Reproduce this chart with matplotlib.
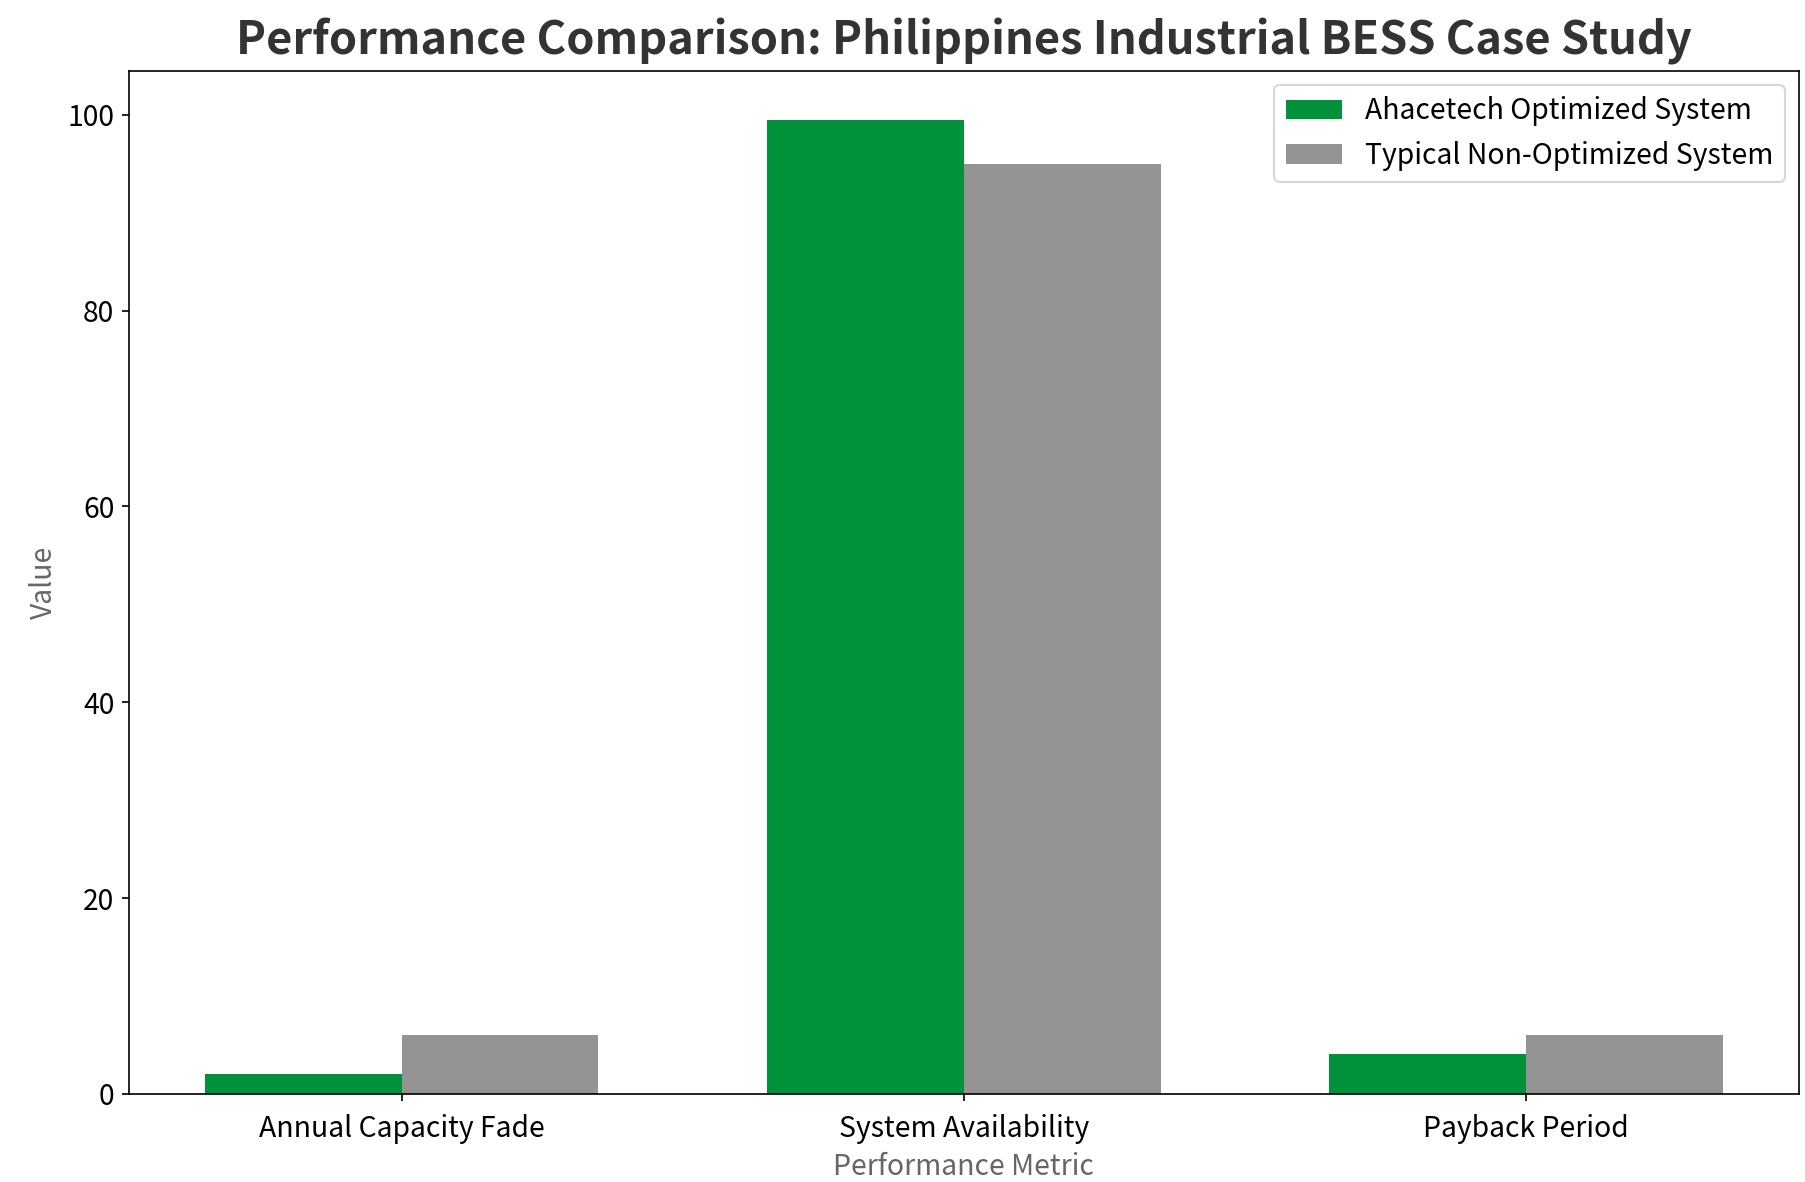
import numpy as np
import matplotlib
matplotlib.use("Agg")
import matplotlib.pyplot as plt

plt.rcParams['font.family'] = ['Noto Sans CJK SC', 'DejaVu Sans']

# 資料
metrics = ["Annual Capacity Fade", "System Availability", "Payback Period"]
optimized = [2.0, 99.5, 4.1]
typical = [6.0, 95.0, 6.0]
labels = ["Ahacetech Optimized System", "Typical Non-Optimized System"]

fig, ax = plt.subplots(figsize=(12.04, 7.88), dpi=150)
fig.subplots_adjust(left=0.0714, right=0.996, top=0.940, bottom=0.0745)

x = np.arange(len(metrics))
w = 0.35
ax.bar(x - w / 2, optimized, w, color="#00923a", linewidth=0, label=labels[0])
ax.bar(x + w / 2, typical, w, color="#949494", linewidth=0, label=labels[1])

ax.set_xticks(x)
ax.set_xticklabels(metrics, fontsize=13.6)
ax.tick_params(axis="x", pad=6)
ax.tick_params(axis="y", labelsize=13.6)
ax.set_xlabel("Performance Metric", fontsize=13.6, color="#666666", labelpad=4)
ax.set_ylabel("Value", fontsize=13.6, color="#666666")
ax.set_title("Performance Comparison: Philippines Industrial BESS Case Study",
             fontsize=21.7, fontweight="bold", color="#333333", pad=8)
ax.legend(fontsize=13.6, loc="upper right")

fig.savefig("out.png", dpi=150)
